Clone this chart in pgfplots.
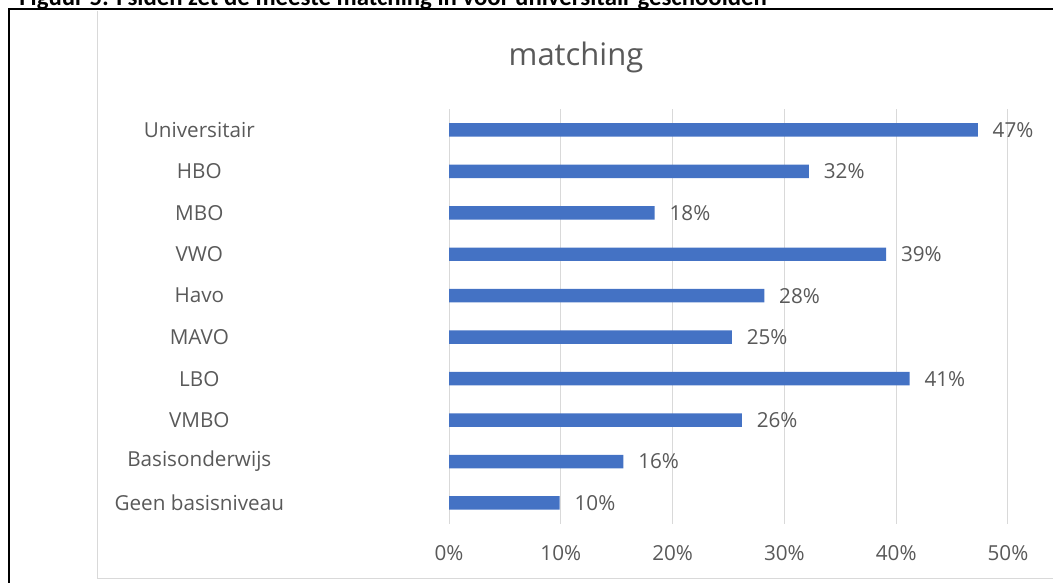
\documentclass[border=0pt]{standalone}
\usepackage{pgfplots}
\pgfplotsset{compat=1.18}
\usepackage{fontspec}
\setmainfont{Open Sans}
\newfontfamily\capfont{Carlito}
\definecolor{barblue}{RGB}{68,114,196}
\definecolor{txt}{RGB}{89,89,89}
\definecolor{gridc}{RGB}{217,217,217}
\begin{document}
\begin{tikzpicture}
\def\u{0.75pt}
\useasboundingbox (0,0) rectangle (1053*\u,-582*\u);
\clip (0,0) rectangle (1053*\u,-582*\u);
\node[anchor=base west, inner sep=0, font=\capfont\bfseries\fontsize{18.6}{20}\selectfont] at (19*\u,-5*\u) {Figuur 5: Fsiden zet de meeste matching in voor universitair geschoolden};
\draw[black, line width=1.5pt] (9*\u,-600*\u) -- (9*\u,-9*\u) -- (1100*\u,-9*\u);
\draw[gridc, line width=0.75pt] (97*\u,-11*\u) -- (97*\u,-578*\u) -- (1100*\u,-578*\u);
\node[txt, font=\fontsize{23.25}{28}\selectfont, anchor=base, inner sep=0] at (576*\u,-65*\u) {matching};
\begin{axis}[
  at={(449*\u,-523.7*\u)}, anchor=south west, scale only axis,
  width=419.25pt, height=310.9pt,
  xbar, bar width=10.1pt,
  xmin=0, xmax=50, ymin=-0.5, ymax=9.5,
  ytick={0,...,9},
  yticklabels={Geen basisniveau, Basisonderwijs, VMBO, LBO, MAVO, Havo, VWO, MBO, HBO, Universitair},
  xtick={0,10,20,30,40,50},
  xticklabel={\pgfmathprintnumber{\tick}\%},
  /pgf/number format/assume math mode=true,
  axis line style={draw=none}, major tick style={draw=none},
  xmajorgrids, grid style={gridc, line width=0.75pt},
  ticklabel style={txt, font=\fontsize{15.5}{18}\selectfont},
  yticklabel style={anchor=center, xshift=-244*0.75pt},
  xticklabel style={anchor=center, yshift=-29.5*0.75pt},
  nodes near coords={\pgfmathprintnumber[fixed,precision=0]{\pgfplotspointmeta}\%},
  nodes near coords style={anchor=west, inner sep=0pt, xshift=11pt, txt, font=\fontsize{15.5}{18}\selectfont},
  clip=false,
]
\addplot[fill=barblue, draw=none] coordinates {
  (9.9,0) (15.6,1) (26.2,2) (41.2,3) (25.3,4) (28.2,5) (39.1,6) (18.4,7) (32.2,8) (47.3,9)
};
\end{axis}
\end{tikzpicture}
\end{document}
